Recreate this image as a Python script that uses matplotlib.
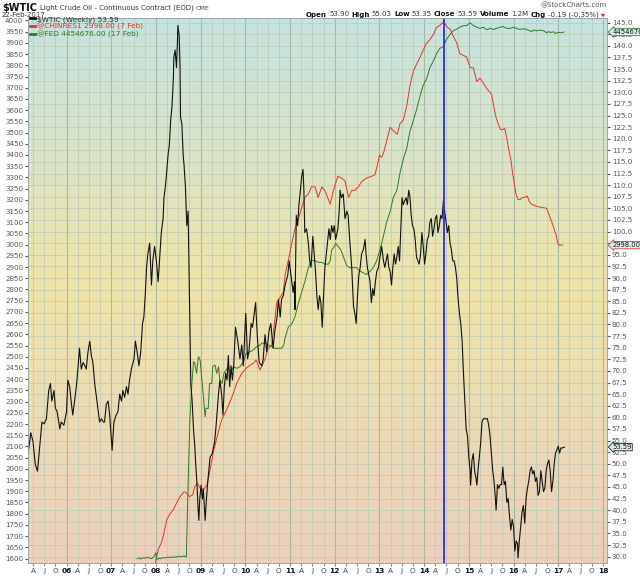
import numpy as np
import matplotlib
matplotlib.use('Agg')
import matplotlib.pyplot as plt
from matplotlib.lines import Line2D
from matplotlib.colors import LinearSegmentedColormap
from matplotlib.transforms import blended_transform_factory


# $WTIC weekly close (decimal year, USD)
wtic_year = [
    2005.14, 2005.20, 2005.25, 2005.27, 2005.30, 2005.35, 2005.40, 2005.42, 2005.45, 2005.50,
    2005.55, 2005.60, 2005.64, 2005.67, 2005.72, 2005.75, 2005.79, 2005.85, 2005.88, 2005.94,
    2006.00, 2006.03, 2006.07, 2006.11, 2006.14, 2006.18, 2006.22, 2006.26, 2006.29, 2006.33,
    2006.37, 2006.41, 2006.44, 2006.48, 2006.52, 2006.555, 2006.59, 2006.63, 2006.67, 2006.70,
    2006.74, 2006.78, 2006.82, 2006.85, 2006.89, 2006.93, 2006.965, 2007.02, 2007.06, 2007.11,
    2007.15, 2007.19, 2007.23, 2007.26, 2007.30, 2007.34, 2007.375, 2007.41, 2007.45, 2007.51,
    2007.54, 2007.58, 2007.62, 2007.66, 2007.70, 2007.73, 2007.76, 2007.79, 2007.82, 2007.86,
    2007.90, 2007.93, 2007.97, 2008.01, 2008.05, 2008.08, 2008.12, 2008.16, 2008.18, 2008.21,
    2008.24, 2008.27, 2008.30, 2008.33, 2008.36, 2008.39, 2008.40, 2008.43, 2008.46, 2008.48,
    2008.49, 2008.52, 2008.54, 2008.55, 2008.58, 2008.61, 2008.63, 2008.66, 2008.69, 2008.72,
    2008.75, 2008.78, 2008.81, 2008.84, 2008.87, 2008.89, 2008.92, 2008.94, 2008.96, 2008.98,
    2009.01, 2009.04, 2009.06, 2009.10, 2009.13, 2009.16, 2009.21, 2009.26, 2009.31, 2009.34,
    2009.37, 2009.40, 2009.43, 2009.47, 2009.50, 2009.53, 2009.56, 2009.59, 2009.62, 2009.65,
    2009.68, 2009.71, 2009.74, 2009.78, 2009.83, 2009.88, 2009.92, 2009.955, 2009.99, 2010.01,
    2010.05, 2010.08, 2010.13, 2010.16, 2010.19, 2010.23, 2010.27, 2010.31, 2010.37, 2010.40,
    2010.44, 2010.48, 2010.53, 2010.57, 2010.62, 2010.66, 2010.71, 2010.74, 2010.78, 2010.81,
    2010.85, 2010.89, 2010.95, 2010.98, 2011.02, 2011.07, 2011.10, 2011.11, 2011.14, 2011.17,
    2011.20, 2011.23, 2011.26, 2011.29, 2011.31, 2011.33, 2011.37, 2011.41, 2011.44, 2011.47,
    2011.51, 2011.54, 2011.57, 2011.60, 2011.63, 2011.66, 2011.69, 2011.72, 2011.75, 2011.78,
    2011.83, 2011.87, 2011.90, 2011.93, 2011.96, 2011.99, 2012.02, 2012.07, 2012.10, 2012.12,
    2012.15, 2012.19, 2012.23, 2012.27, 2012.30, 2012.34, 2012.38, 2012.42, 2012.45, 2012.48,
    2012.51, 2012.54, 2012.57, 2012.60, 2012.64, 2012.68, 2012.70, 2012.73, 2012.76, 2012.79,
    2012.82, 2012.85, 2012.88, 2012.91, 2012.94, 2012.98, 2013.01, 2013.05, 2013.09, 2013.12,
    2013.15, 2013.18, 2013.21, 2013.24, 2013.27, 2013.30, 2013.33, 2013.36, 2013.39, 2013.42,
    2013.45, 2013.48, 2013.505, 2013.535, 2013.565, 2013.595, 2013.625, 2013.655, 2013.685, 2013.71,
    2013.74, 2013.77, 2013.80, 2013.83, 2013.86, 2013.89, 2013.92, 2013.95, 2013.98, 2014.01,
    2014.04, 2014.07, 2014.10, 2014.13, 2014.16, 2014.19, 2014.22, 2014.25, 2014.28, 2014.31,
    2014.34, 2014.37, 2014.40, 2014.43, 2014.46, 2014.49, 2014.52, 2014.55, 2014.58, 2014.61,
    2014.64, 2014.67, 2014.70, 2014.73, 2014.76, 2014.79, 2014.82, 2014.85, 2014.88, 2014.91,
    2014.94, 2014.97, 2015.00, 2015.03, 2015.04, 2015.07, 2015.10, 2015.13, 2015.16, 2015.18,
    2015.21, 2015.235, 2015.265, 2015.295, 2015.325, 2015.355, 2015.385, 2015.415, 2015.445, 2015.475,
    2015.505, 2015.535, 2015.565, 2015.595, 2015.61, 2015.64, 2015.67, 2015.70, 2015.73, 2015.76,
    2015.79, 2015.82, 2015.85, 2015.88, 2015.91, 2015.94, 2015.97, 2016.00, 2016.03, 2016.06,
    2016.09, 2016.10, 2016.13, 2016.16, 2016.19, 2016.22, 2016.25, 2016.28, 2016.31, 2016.34,
    2016.37, 2016.40, 2016.43, 2016.46, 2016.49, 2016.52, 2016.55, 2016.58, 2016.61, 2016.64,
    2016.67, 2016.70, 2016.73, 2016.76, 2016.79, 2016.82, 2016.85, 2016.88, 2016.91, 2016.94,
    2016.97, 2017.00, 2017.03, 2017.06, 2017.09, 2017.14]
wtic_price = [
    52.2, 56.7, 54.8, 52.9, 49.9, 48.4, 53.7, 55.9, 59.0, 58.6,
    59.7, 65.7, 67.3, 63.5, 65.8, 62.0, 61.2, 57.5, 59.0, 58.3,
    61.2, 68.0, 66.6, 62.8, 60.5, 63.5, 66.6, 71.1, 74.9, 70.4,
    71.8, 71.1, 70.4, 74.1, 76.4, 73.3, 71.8, 67.3, 64.3, 62.0,
    59.0, 59.7, 59.0, 59.0, 62.8, 63.5, 60.5, 52.9, 59.0, 60.5,
    61.2, 65.0, 63.5, 65.8, 64.3, 66.6, 65.0, 68.0, 70.4, 72.6,
    76.4, 74.1, 71.1, 74.1, 80.2, 81.6, 86.2, 92.3, 95.2, 97.5,
    88.5, 93.7, 96.8, 93.7, 89.2, 93.7, 99.8, 102.8, 107.3, 109.6,
    112.7, 116.4, 118.7, 124.0, 127.0, 133.0, 137.5, 139.1, 135.3, 140.6,
    144.4, 142.2, 135.3, 124.7, 123.2, 116.4, 114.2, 109.6, 101.3, 104.4,
    86.2, 67.3, 63.5, 57.5, 53.7, 49.9, 45.4, 40.9, 37.8, 42.4,
    45.4, 42.4, 44.6, 37.8, 42.4, 46.1, 51.4, 52.2, 54.5, 57.5,
    61.2, 65.0, 68.0, 65.0, 60.5, 66.6, 69.5, 68.0, 73.3, 66.6,
    71.1, 68.0, 71.1, 79.4, 76.4, 72.6, 75.6, 71.1, 78.6, 82.4,
    72.6, 74.1, 80.2, 79.4, 81.6, 84.7, 77.1, 71.8, 71.1, 72.6,
    77.8, 74.1, 78.6, 80.2, 74.9, 78.6, 81.6, 85.4, 81.6, 85.4,
    86.2, 88.5, 90.7, 93.7, 90.7, 86.9, 89.2, 83.2, 103.5, 101.3,
    105.8, 108.9, 111.8, 113.4, 108.9, 99.8, 100.6, 97.5, 93.7, 92.3,
    99.0, 95.2, 91.4, 86.2, 83.2, 86.2, 84.7, 79.4, 86.2, 92.3,
    96.8, 100.6, 98.3, 101.3, 99.8, 101.3, 98.3, 100.6, 104.4, 108.9,
    107.3, 108.1, 102.8, 104.4, 103.5, 97.5, 92.3, 83.9, 82.4, 80.2,
    86.2, 90.7, 92.3, 95.2, 96.1, 98.3, 95.2, 92.3, 90.7, 89.2,
    84.7, 87.7, 86.2, 89.2, 91.4, 92.3, 94.5, 96.8, 93.7, 92.3,
    93.7, 95.2, 92.3, 91.4, 88.5, 92.3, 95.2, 93.0, 94.5, 96.8,
    93.7, 101.3, 107.3, 105.8, 106.6, 107.3, 105.8, 108.9, 107.3, 103.5,
    101.3, 100.6, 98.3, 94.5, 93.7, 93.0, 95.2, 99.8, 96.8, 93.0,
    95.2, 98.3, 99.0, 102.1, 102.8, 99.0, 100.6, 102.8, 103.5, 99.8,
    101.3, 103.5, 102.8, 106.6, 104.4, 102.1, 99.8, 101.3, 97.5, 96.1,
    93.7, 93.7, 92.3, 89.9, 85.4, 82.4, 80.2, 76.4, 69.5, 63.5,
    57.5, 55.9, 51.4, 48.4, 45.4, 50.7, 52.2, 48.4, 46.9, 45.4,
    49.2, 51.4, 54.5, 59.0, 59.7, 59.7, 59.7, 59.7, 58.3, 55.9,
    52.2, 48.4, 46.1, 42.4, 40.0, 45.5, 44.7, 45.5, 45.5, 49.3,
    45.5, 46.2, 41.7, 42.5, 38.7, 35.7, 38.0, 36.5, 31.2, 33.4,
    32.7, 29.7, 33.4, 36.5, 39.5, 41.0, 37.2, 42.5, 44.7, 46.2,
    48.5, 49.3, 47.8, 48.5, 46.2, 47.0, 43.2, 44.0, 48.5, 46.2,
    44.0, 44.7, 48.5, 50.0, 50.8, 48.5, 44.0, 46.2, 50.0, 52.3,
    53.0, 53.8, 52.3, 53.4, 53.4, 53.59]

# @CHINRES1 China FX reserves (USD bn)
chin_year = [
    2007.96, 2008.00, 2008.05, 2008.13, 2008.18, 2008.24, 2008.32, 2008.39, 2008.46, 2008.54,
    2008.63, 2008.69, 2008.75, 2008.82, 2008.87, 2008.93, 2008.99, 2009.06, 2009.14, 2009.21,
    2009.28, 2009.37, 2009.47, 2009.58, 2009.69, 2009.81, 2009.92, 2010.02, 2010.11, 2010.18,
    2010.24, 2010.33, 2010.44, 2010.51, 2010.59, 2010.66, 2010.70, 2010.78, 2010.85, 2010.89,
    2010.96, 2011.04, 2011.11, 2011.19, 2011.26, 2011.33, 2011.41, 2011.48, 2011.56, 2011.63,
    2011.71, 2011.78, 2011.90, 2011.97, 2012.07, 2012.15, 2012.23, 2012.31, 2012.38, 2012.45,
    2012.53, 2012.60, 2012.71, 2012.83, 2012.90, 2012.95, 2013.00, 2013.05, 2013.10, 2013.16,
    2013.24, 2013.31, 2013.40, 2013.46, 2013.535, 2013.61, 2013.685, 2013.72, 2013.76, 2013.83,
    2013.91, 2013.98, 2014.06, 2014.13, 2014.21, 2014.28, 2014.35, 2014.43, 2014.47, 2014.52,
    2014.58, 2014.65, 2014.73, 2014.80, 2014.88, 2014.95, 2015.03, 2015.10, 2015.18, 2015.25,
    2015.325, 2015.40, 2015.475, 2015.51, 2015.56, 2015.61, 2015.66, 2015.71, 2015.76, 2015.80,
    2015.85, 2015.89, 2015.94, 2015.98, 2016.03, 2016.06, 2016.10, 2016.15, 2016.19, 2016.25,
    2016.31, 2016.35, 2016.40, 2016.48, 2016.55, 2016.67, 2016.74, 2016.80, 2016.86, 2016.91,
    2016.95, 2016.98, 2017.01, 2017.10]
chin_res = [
    1520, 1594, 1638, 1675, 1713, 1772, 1802, 1817, 1847, 1876,
    1898, 1891, 1876, 1884, 1921, 1936, 1913, 1906, 1928, 1995,
    2070, 2144, 2218, 2263, 2315, 2382, 2426, 2449, 2463, 2471,
    2486, 2441, 2490, 2537, 2553, 2663, 2741, 2765, 2788, 2866,
    2929, 3007, 3070, 3117, 3164, 3210, 3226, 3258, 3258, 3210,
    3258, 3242, 3180, 3242, 3305, 3297, 3285, 3210, 3242, 3242,
    3258, 3281, 3297, 3305, 3312, 3351, 3399, 3390, 3414, 3461,
    3524, 3508, 3492, 3540, 3556, 3618, 3711, 3743, 3774, 3805,
    3837, 3868, 3900, 3914, 3939, 3969, 3978, 3993, 3985, 3969,
    3962, 3930, 3900, 3852, 3844, 3837, 3789, 3789, 3727, 3743,
    3720, 3696, 3680, 3669, 3614, 3567, 3536, 3513, 3513, 3520,
    3474, 3427, 3380, 3318, 3255, 3224, 3201, 3201, 3209, 3212,
    3216, 3193, 3180, 3174, 3169, 3165, 3162, 3131, 3099, 3068,
    3045, 3014, 2998, 2998.00]

# @FED total assets (USD mn)
fed_year = [
    2007.58, 2007.62, 2007.66, 2007.70, 2007.75, 2007.80, 2007.85, 2007.90, 2007.95, 2008.00,
    2008.02, 2008.06, 2008.10, 2008.15, 2008.20, 2008.26, 2008.32, 2008.38, 2008.44, 2008.50,
    2008.56, 2008.62, 2008.68, 2008.72, 2008.76, 2008.80, 2008.84, 2008.87, 2008.91, 2008.95,
    2008.99, 2009.02, 2009.05, 2009.08, 2009.10, 2009.12, 2009.17, 2009.20, 2009.25, 2009.27,
    2009.32, 2009.36, 2009.40, 2009.43, 2009.48, 2009.52, 2009.57, 2009.62, 2009.67, 2009.73,
    2009.81, 2009.88, 2009.96, 2010.02, 2010.11, 2010.18, 2010.25, 2010.33, 2010.37, 2010.44,
    2010.51, 2010.59, 2010.66, 2010.74, 2010.81, 2010.86, 2010.89, 2010.96, 2011.04, 2011.11,
    2011.19, 2011.26, 2011.33, 2011.41, 2011.48, 2011.56, 2011.63, 2011.71, 2011.78, 2011.86,
    2011.90, 2011.93, 2011.99, 2012.02, 2012.08, 2012.14, 2012.20, 2012.27, 2012.34, 2012.42,
    2012.49, 2012.57, 2012.64, 2012.71, 2012.79, 2012.86, 2012.94, 2013.01, 2013.09, 2013.16,
    2013.24, 2013.31, 2013.39, 2013.46, 2013.535, 2013.61, 2013.685, 2013.76, 2013.83, 2013.91,
    2013.98, 2014.06, 2014.13, 2014.21, 2014.28, 2014.35, 2014.43, 2014.50, 2014.58, 2014.65,
    2014.73, 2014.80, 2014.88, 2014.95, 2015.03, 2015.10, 2015.18, 2015.25, 2015.325, 2015.40,
    2015.47, 2015.55, 2015.62, 2015.70, 2015.77, 2015.85, 2015.92, 2016.00, 2016.07, 2016.14,
    2016.22, 2016.29, 2016.37, 2016.41, 2016.44, 2016.52, 2016.59, 2016.67, 2016.71, 2016.74,
    2016.79, 2016.82, 2016.89, 2016.94, 2016.97, 2017.01, 2017.05, 2017.13]
fed_assets = [
    895000, 900000, 893000, 902000, 898000, 905000, 900000, 896000, 906000, 935000,
    890000, 898000, 895000, 902000, 900000, 906000, 903000, 908000, 905000, 912000,
    908000, 914000, 906000, 1400000, 1833000, 2058000, 2227000, 2215000, 2148000, 2261000,
    2238000, 2125000, 2035000, 1923000, 1855000, 1911000, 1911000, 2080000, 2080000, 2193000,
    2204000, 2148000, 2193000, 2103000, 2080000, 2148000, 2170000, 2193000, 2148000, 2193000,
    2182000, 2193000, 2227000, 2283000, 2294000, 2306000, 2328000, 2339000, 2352000, 2352000,
    2340000, 2329000, 2317000, 2317000, 2317000, 2340000, 2388000, 2459000, 2483000, 2530000,
    2625000, 2696000, 2767000, 2862000, 2910000, 2910000, 2898000, 2898000, 2886000, 2886000,
    2910000, 2981000, 3005000, 3028000, 3005000, 2981000, 2930000, 2874000, 2862000, 2862000,
    2862000, 2838000, 2827000, 2815000, 2838000, 2862000, 2910000, 2981000, 3076000, 3170000,
    3242000, 3337000, 3384000, 3502000, 3597000, 3668000, 3787000, 3858000, 3929000, 4024000,
    4095000, 4143000, 4214000, 4261000, 4309000, 4344000, 4356000, 4404000, 4439000, 4463000,
    4475000, 4487000, 4498000, 4498000, 4517000, 4498000, 4487000, 4479000, 4487000, 4470000,
    4479000, 4472000, 4479000, 4487000, 4491000, 4479000, 4479000, 4487000, 4479000, 4472000,
    4477000, 4472000, 4463000, 4456000, 4468000, 4463000, 4468000, 4463000, 4456000, 4449000,
    4458000, 4451000, 4456000, 4444000, 4449000, 4453000, 4449000, 4454676]

peak_mark = 2014.45

left_ticks = list(range(1600, 4001, 50))
right_ticks = list(np.arange(30.0, 145.1, 2.5))
first_year, last_year = 2005, 2018

plt.rcParams['font.family'] = ['DejaVu Sans']

fig = plt.figure(figsize=(6.4, 5.76), dpi=100)
rect = [28 / 640, 13 / 576, 579 / 640, 545 / 576]
xlim = (2005.138, 2018.091)
plim = (28.63, 146.0)

# price axis holds background and grid
ax = fig.add_axes(rect)
ax.set_xlim(*xlim)
ax.set_ylim(*plim)

cmap = LinearSegmentedColormap.from_list('sc', [
    (0.00, '#c6e3df'), (0.22, '#d7e3cb'), (0.48, '#efe5a8'),
    (0.72, '#ecdcb4'), (1.00, '#ebd0bd')])
grad = np.linspace(0, 1, 256).reshape(-1, 1)
ax.imshow(grad, extent=[xlim[0], xlim[1], plim[0], plim[1]], aspect='auto',
          cmap=cmap, origin='upper', zorder=-10)

# x ticks by quarter
qpos, qlab = [], []
for yr in range(first_year, last_year + 1):
    for q, lab in ((0.0, '%02d' % (yr % 100)), (0.25, 'A'), (0.5, 'J'), (0.75, 'O')):
        p = yr + q
        if 2005.2 < p < 2018.05:
            qpos.append(p)
            qlab.append(lab)
for p, lab in zip(qpos, qlab):
    yrline = lab not in ('A', 'J', 'O')
    ax.axvline(p, color='#a8b6a2' if yrline else '#bdc9b6',
               lw=0.8 if yrline else 0.5, zorder=-5)
for v in right_ticks:
    ax.axhline(v, color='#bfc8b6', lw=0.5, zorder=-5)

ax.set_xticks(qpos)
ax.set_xticklabels(qlab)
for t in ax.get_xticklabels():
    if t.get_text() not in ('A', 'J', 'O'):
        t.set_fontweight('bold')
        t.set_color('#111111')
    else:
        t.set_color('#444444')
ax.tick_params(axis='x', labelsize=5.3, length=2, pad=1.5, color='#888888')

# china reserves, left scale
ax_l = ax.twinx()
ax_l.set_ylim(1580, 4011)
ax_l.plot(chin_year, chin_res, color='#e8312a', lw=0.7)

# fed balance sheet, own hidden scale
ax_g = ax.twinx()
ax_g.set_ylim(866178, 4549288)
ax_g.set_yticks([])
ax_g.plot(fed_year, fed_assets, color='#2c7a2c', lw=0.7)

# oil on top
ax_k = ax.twinx()
ax_k.set_ylim(*plim)
ax_k.set_yticks([])
ax_k.plot(wtic_year, wtic_price, color='#111111', lw=0.8)
ax_k.axvline(peak_mark, color='#2a2aff', lw=1.3)

# twinx moves the host ticks left, so set sides after all twins exist
ax.yaxis.tick_right()
ax.set_yticks(right_ticks)
ax.set_yticklabels(['%.1f' % v for v in right_ticks])
ax.tick_params(axis='y', which='both', left=False, labelleft=False,
               right=True, labelright=True, labelsize=5.1, length=2,
               pad=1.5, colors='#555555')
ax_l.yaxis.tick_left()
ax_l.set_yticks(left_ticks)
ax_l.set_yticklabels([str(v) for v in left_ticks])
ax_l.tick_params(axis='y', right=False, labelright=False, left=True,
                 labelleft=True, labelsize=5.1, length=2, pad=1.5,
                 colors='#555555')

for a in (ax, ax_l, ax_g, ax_k):
    a.set_xlim(*xlim)
    for s in a.spines.values():
        s.set_color('#9aa7b0')
        s.set_linewidth(0.6)

handles = [Line2D([], [], color='#111111', lw=2),
           Line2D([], [], color='#e8312a', lw=2),
           Line2D([], [], color='#2c7a2c', lw=2)]
labels = [r'\$WTIC (Weekly) 53.59', '@CHINRES1 2998.00 (7 Feb)',
          '@FED 4454676.00 (17 Feb)']
leg = ax_k.legend(handles, labels, loc='upper left', bbox_to_anchor=(-0.004, 1.012),
                  fontsize=5.3, handlelength=0.6, handletextpad=0.4,
                  labelspacing=0.05, borderaxespad=0.2, frameon=False)
for txt, col in zip(leg.get_texts(), ('#333333', '#e8312a', '#2c7a2c')):
    txt.set_color(col)

# last-value tags on the right edge
for a, val, lab, col in ((ax_g, fed_assets[-1], '4454676.00', '#2c7a2c'),
                         (ax_l, chin_res[-1], '2998.00', '#e8312a'),
                         (ax_k, wtic_price[-1], '53.59', '#222222')):
    tr = blended_transform_factory(ax.transAxes, a.transData)
    a.text(1.009, val, lab, transform=tr, fontsize=4.9, va='center', ha='left',
           color='#111111', clip_on=False, zorder=10,
           bbox=dict(boxstyle='larrow,pad=0.1', fc='#dcedf2', ec=col, lw=0.6))

# header, laid out piece by piece with measured widths
renderer = fig.canvas.get_renderer()


def run_text(x0, y0, pieces, gap=2.5, right=None):
    """."""
    texts = [fig.text(0, 1 - y0 / 576, s, va='center', **kw) for s, kw in pieces]
    widths = [t.get_window_extent(renderer).width for t in texts]
    if right is not None:
        x0 = right - sum(widths) - gap * (len(widths) - 1)
    x = x0
    for t, w in zip(texts, widths):
        t.set_x(x / 640)
        x += w + gap
    return x


run_text(2, 8, [(r'\$WTIC', dict(fontsize=7.0, fontweight='bold', color='#111111')),
                ('Light Crude Oil - Continuous Contract (EOD)',
                 dict(fontsize=5.0, color='#333333')),
                ('CME', dict(fontsize=4.6, color='#444444'))])
fig.text(2 / 640, 1 - 15 / 576, '22-Feb-2017', fontsize=5.0, va='center',
         color='#333333')
fig.text(607 / 640, 1 - 5 / 576, '@StockCharts.com', fontsize=5.0, va='center',
         ha='right', color='#555555')

bold = dict(fontsize=5.0, fontweight='bold', color='#111111')
norm = dict(fontsize=5.0, color='#333333')
hdr = [('Open', bold), ('53.90', norm), ('High', bold), ('55.03', norm),
       ('Low', bold), ('53.35', norm), ('Close', bold), ('53.59', norm),
       ('Volume', bold), ('1.2M', norm), ('Chg', bold), ('-0.19 (-0.35%)', norm)]
end = run_text(0, 14.5, hdr, gap=2.2, right=599)
fig.text(end / 640, 1 - 14.5 / 576, u'\u25bc', fontsize=3.8, va='center',
         color='#cc2222')

fig.savefig('out.png', dpi=100)
